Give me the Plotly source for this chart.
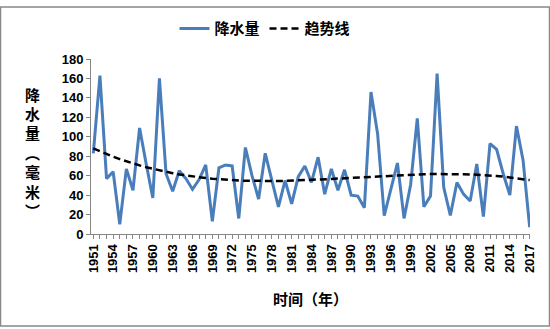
import numpy as np
import plotly.graph_objects as go

years = list(range(1951, 2018))
precip = [83, 163, 57, 64, 10, 67, 45, 109, 72, 37, 160,
          62, 44, 65, 57, 46, 56, 71, 13, 68, 71, 70, 16,
          89, 60, 36, 83, 56, 28, 55, 31, 59, 70, 53, 79,
          41, 67, 45, 66, 40, 39, 27, 146, 103, 19, 46, 73,
          16, 51, 119, 28, 39, 165, 48, 19, 53, 41, 34, 72,
          18, 93, 87, 62, 40, 111, 76, 7]
tick_labels = [str(y) if (y - 1951) % 3 == 0 else "" for y in years]
ytitle_chars = ["降", "水", "量", "︵", "毫", "米", "︶"]

coef = np.polyfit(np.array(years) - 1984, precip, 3)
trend = np.polyval(coef, np.array(years) - 1984)

FONT = "Liberation Sans, Noto Sans CJK SC, sans-serif"
CJK = "Noto Sans CJK SC, sans-serif"

fig = go.Figure()
fig.add_trace(go.Scatter(x=years, y=precip, mode="lines", name="降水量",
                         line=dict(color="#4A7EBB", width=3)))
fig.add_trace(go.Scatter(x=years, y=trend, mode="lines", name="趋势线",
                         line=dict(color="black", width=2.5, dash="7px,4px")))

L, R, T, B = 91, 20, 54, 95
W, H = 550, 329
pw, ph = W - L - R, H - T - B

fig.update_layout(
    width=W, height=H,
    margin=dict(l=L, r=R, t=T, b=B),
    paper_bgcolor="white", plot_bgcolor="white",
    font=dict(family=FONT, size=13, color="black", weight="bold"),
    showlegend=True,
    legend=dict(orientation="h", x=(265 - L) / pw, xanchor="center",
                y=1 + (T - 23) / ph, yanchor="middle",
                font=dict(family=CJK, size=15, weight="bold"),
                tracegroupgap=0),
    xaxis=dict(range=[1950.65, 2017.05], tickmode="array", tickvals=years,
               ticktext=tick_labels, tickangle=-90, ticks="outside", ticklen=4,
               tickcolor="#868686", showline=True, linecolor="#868686",
               linewidth=1, showgrid=False, zeroline=False,
               tickfont=dict(family=FONT, size=13, weight="bold")),
    yaxis=dict(range=[0, 180], dtick=20, ticks="outside", ticklen=4,
               tickcolor="#868686", showline=True, linecolor="#868686",
               linewidth=1, showgrid=False, zeroline=False,
               tickfont=dict(family=FONT, size=13, weight="bold")),
)

for i, ch in enumerate(ytitle_chars):
    fig.add_annotation(text=ch, xref="paper", yref="paper",
                       x=(32 - L) / pw, y=(T + ph - (90 + 20 * i)) / ph,
                       xanchor="center", yanchor="middle", showarrow=False,
                       font=dict(family=CJK, size=15, weight="bold"))
fig.add_annotation(text="时间（年）", xref="paper", yref="paper",
                   x=(310 - L) / pw, y=(T + ph - 300) / ph, xanchor="center",
                   yanchor="middle", showarrow=False,
                   font=dict(family=CJK, size=15, weight="bold"))

fig.add_shape(type="rect", xref="paper", yref="paper",
              x0=(0.5 - L) / pw, x1=(W - 0.5 - L) / pw,
              y0=(T + ph - (H - 0.5)) / ph, y1=(T + ph - 0.5) / ph,
              line=dict(color="#888888", width=1.5), fillcolor="rgba(0,0,0,0)")

fig.write_html("out.html")
